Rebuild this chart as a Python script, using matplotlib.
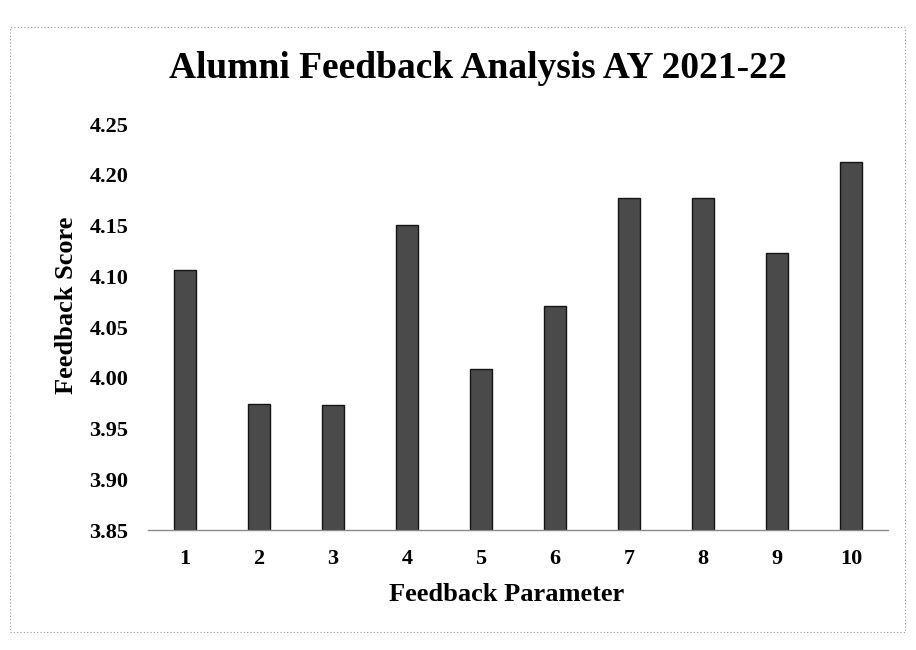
import matplotlib.pyplot as plt
from matplotlib.patches import Rectangle

# values
parameters = ['1', '2', '3', '4', '5', '6', '7', '8', '9', '10']
scores = [4.106, 3.974, 3.973, 4.151, 4.009, 4.071, 4.177, 4.177, 4.123, 4.213]
y_ticks = [3.85, 3.90, 3.95, 4.00, 4.05, 4.10, 4.15, 4.20, 4.25]

serif = ['Liberation Serif', 'DejaVu Serif']

fig = plt.figure(figsize=(9.16, 6.5), dpi=100)
ax = fig.add_axes([0.1616, 0.1846, 0.8078, 0.6246])

x = list(range(len(parameters)))
ax.bar(x, [s - 3.85 for s in scores], bottom=3.85, width=0.31,
       color='#4a4a4a', edgecolor='#151515', linewidth=1.0)

ax.set_xlim(-0.5, len(parameters) - 0.5)
ax.set_ylim(3.85, 4.25)
ax.set_yticks(y_ticks)
ax.set_yticklabels(['%.2f' % v for v in y_ticks], family=serif, fontsize=16, fontweight='bold')
ax.set_xticks(x)
ax.set_xticklabels(parameters, family=serif, fontsize=16, fontweight='bold')
ax.tick_params(axis='y', length=0, pad=14)
ax.tick_params(axis='x', length=0, pad=14)

for side in ['top', 'right', 'left']:
	ax.spines[side].set_visible(False)
ax.spines['bottom'].set_color('#8a8a8a')
ax.spines['bottom'].set_linewidth(1.0)
ax.spines['bottom'].set_linestyle((0, (2, 1)))

fig.text(0.522, 0.895, 'Alumni Feedback Analysis AY 2021-22', ha='center', va='center',
	family=serif, fontsize=27, fontweight='bold')
fig.text(0.073, 0.531, 'Feedback Score', ha='center', va='center', rotation=90,
	family=serif, fontsize=19, fontweight='bold')
fig.text(0.553, 0.086, 'Feedback Parameter', ha='center', va='center',
	family=serif, fontsize=19, fontweight='bold')

# chart area border from the printout
fig.patches.append(Rectangle((10 / 916, 1 - 632 / 650), 895 / 916, 605 / 650,
	transform=fig.transFigure, fill=False, edgecolor='#9a9a9a',
	linewidth=0.8, linestyle=(0, (1, 2))))

fig.savefig('out.png', dpi=100)
